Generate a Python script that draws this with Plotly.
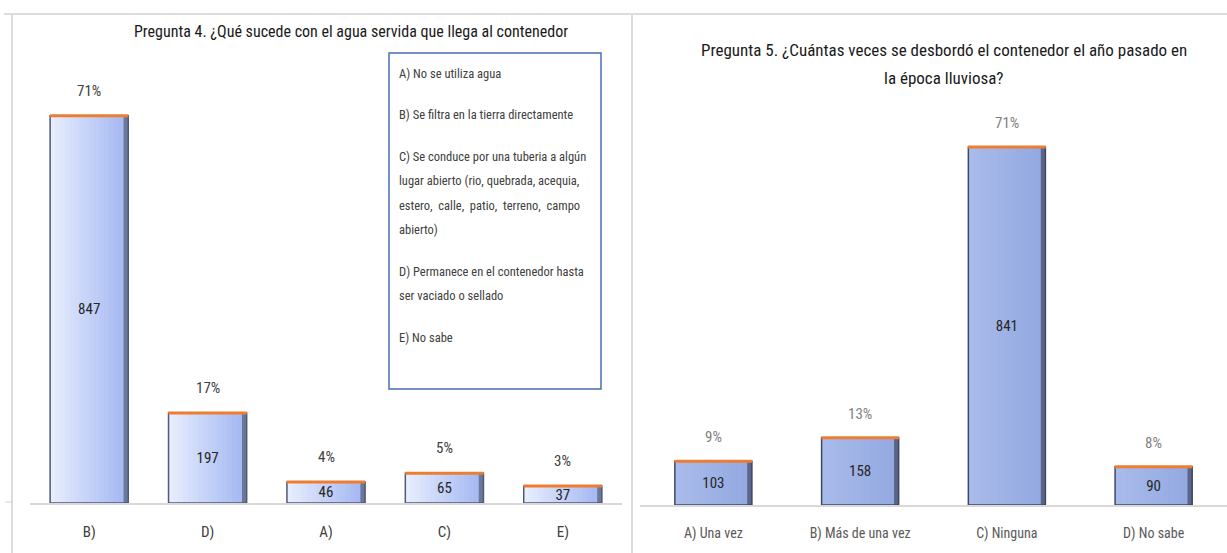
import plotly.graph_objects as go

W, H = 1227, 553

# Pregunta 4
q4_cats = ["B)", "D)", "A)", "C)", "E)"]
q4_counts = [847, 197, 46, 65, 37]
q4_title = "Pregunta 4. ¿Qué sucede con el agua servida que llega al contenedor"
q4_legend = [
    ["A) No se utiliza agua"],
    ["B) Se filtra en la tierra directamente"],
    ["C) Se conduce por una tuberia a algún",
     "lugar abierto (rio, quebrada, acequia,",
     "estero,  calle,  patio,  terreno,  campo",
     "abierto)"],
    ["D) Permanece en el contenedor hasta",
     "ser vaciado o sellado"],
    ["E) No sabe"],
]

# Pregunta 5
q5_cats = ["A) Una vez", "B) Más de una vez", "C) Ninguna", "D) No sabe"]
q5_counts = [103, 158, 841, 90]
q5_title = ["Pregunta 5. ¿Cuántas veces se desbordó el contenedor el año pasado en",
            "la época lluviosa?"]

FONT = "Liberation Sans Narrow, Arial Narrow, Roboto Condensed, sans-serif"
ORANGE = "#ed7d31"


def px(x):
    return x / W


def py(y):
    return 1 - y / H


def pct(counts):
    total = sum(counts)
    return [f"{round(100 * c / total)}%" for c in counts]


def mix(c1, c2, t):
    a = [int(c1[i:i + 2], 16) for i in (1, 3, 5)]
    b = [int(c2[i:i + 2], 16) for i in (1, 3, 5)]
    return "rgb(%d,%d,%d)" % tuple(round(a[k] + (b[k] - a[k]) * t) for k in range(3))


fig = go.Figure()


def gradient_bars(cats, vals, width, xa, ya, c_left, c_right, c_edge, edge, n=16):
    # each strip runs from its own start to the right edge, later ones drawn on top -> no seams
    step = width / n
    for i in range(n):
        fig.add_trace(go.Bar(
            x=cats, y=vals, width=width - i * step, offset=-width / 2 + i * step,
            xaxis=xa, yaxis=ya, marker=dict(color=mix(c_left, c_right, i / (n - 1)), line=dict(width=0)),
            showlegend=False, hoverinfo="skip",
        ))
    # dark bevel on the right side
    fig.add_trace(go.Bar(
        x=cats, y=vals, width=width * 0.06, offset=width / 2 - width * 0.06,
        xaxis=xa, yaxis=ya, marker=dict(color=c_edge, line=dict(width=0)),
        showlegend=False, hoverinfo="skip",
    ))
    # outline + value labels
    fig.add_trace(go.Bar(
        x=cats, y=vals, width=width, offset=-width / 2, xaxis=xa, yaxis=ya,
        marker=dict(color="rgba(0,0,0,0)", line=dict(color=edge, width=1.5)),
        text=[str(v) for v in vals], textposition="inside", textangle=0,
        insidetextanchor="middle", constraintext="none",
        textfont=dict(family=FONT, size=15, color="#262626"),
        showlegend=False, hoverinfo="skip",
    ))


gradient_bars(q4_cats, q4_counts, 0.66, "x", "y", "#e6edfd", "#a3b6f1", "#6b789b", "#4f5a78")
fig.add_trace(go.Scatter(
    x=q4_cats, y=q4_counts, mode="markers", xaxis="x", yaxis="y",
    marker=dict(symbol="line-ew", size=56, line=dict(color=ORANGE, width=3)),
    showlegend=False, hoverinfo="skip",
))

gradient_bars(q5_cats, q5_counts, 0.525, "x2", "y2", "#a9bbea", "#92a8e0", "#5a6689", "#3e4863")
fig.add_trace(go.Scatter(
    x=q5_cats, y=q5_counts, mode="markers", xaxis="x2", yaxis="y2",
    marker=dict(symbol="line-ew", size=55.5, line=dict(color=ORANGE, width=3)),
    showlegend=False, hoverinfo="skip",
))

annotations = []
for c, v, t in zip(q4_cats, q4_counts, pct(q4_counts)):
    annotations.append(dict(x=c, y=v, xref="x", yref="y", text=t, showarrow=False,
                            yanchor="bottom", yshift=14,
                            font=dict(family=FONT, size=15, color="#404040")))
for c, v, t in zip(q5_cats, q5_counts, pct(q5_counts)):
    annotations.append(dict(x=c, y=v, xref="x2", yref="y2", text=t, showarrow=False,
                            yanchor="bottom", yshift=13,
                            font=dict(family=FONT, size=15, color="#7f7f7f")))

annotations.append(dict(x=px(351), y=py(32), xref="paper", yref="paper", text=q4_title,
                        showarrow=False, xanchor="center", yanchor="middle",
                        font=dict(family=FONT, size=16, color="#1a1a1a")))
for i, line in enumerate(q5_title):
    annotations.append(dict(x=px(944), y=py(50 + 28 * i), xref="paper", yref="paper",
                            text=line, showarrow=False, xanchor="center", yanchor="middle",
                            font=dict(family=FONT, size=17, color="#1a1a1a")))

# legend text box
y = 73
for para in q4_legend:
    for line in para:
        annotations.append(dict(x=px(397), y=py(y), xref="paper", yref="paper", text=line,
                                showarrow=False, xanchor="left", yanchor="middle",
                                font=dict(family=FONT, size=12.5, color="#404040")))
        y += 24.5
    y += 17

shapes = [
    dict(type="rect", xref="paper", yref="paper", x0=px(389), x1=px(601), y0=py(389), y1=py(53),
         line=dict(color="#4a6db3", width=1.5)),
    dict(type="line", xref="paper", yref="paper", x0=px(4), x1=1, y0=py(14), y1=py(14),
         line=dict(color="#dcdcdc", width=2)),
    dict(type="line", xref="paper", yref="paper", x0=px(12), x1=px(12), y0=0, y1=py(14),
         line=dict(color="#dcdcdc", width=2)),
    dict(type="line", xref="paper", yref="paper", x0=px(632), x1=px(632), y0=0, y1=py(14),
         line=dict(color="#dcdcdc", width=2)),
    dict(type="line", xref="paper", yref="paper", x0=px(5), x1=px(12), y0=py(502), y1=py(502),
         line=dict(color="#d0d0d0", width=1)),
]

axis_x = dict(type="category", showgrid=False, zeroline=False, showline=True,
              linecolor="#d9d9d9", linewidth=1.5, ticks="outside", ticklen=14,
              tickcolor="rgba(0,0,0,0)", fixedrange=True)

fig.update_layout(
    width=W, height=H,
    margin=dict(l=0, r=0, t=0, b=0),
    paper_bgcolor="white", plot_bgcolor="white",
    barmode="overlay",
    xaxis=dict(axis_x, domain=[px(30), px(622)], anchor="y", range=[-0.5, len(q4_cats) - 0.5],
               tickfont=dict(family=FONT, size=15, color="#404040")),
    yaxis=dict(domain=[py(503), py(40)], range=[0, 1013], visible=False, anchor="x", fixedrange=True),
    xaxis2=dict(axis_x, domain=[px(640), 1], anchor="y2", range=[-0.5, len(q5_cats) - 0.5],
                tickfont=dict(family=FONT, size=14, color="#595959")),
    yaxis2=dict(domain=[py(505), py(40)], range=[0, 1092], visible=False, anchor="x2", fixedrange=True),
    annotations=annotations,
    shapes=shapes,
)

fig.write_html("out.html", config={"displayModeBar": False},
               post_script="document.body.style.margin='0';")
